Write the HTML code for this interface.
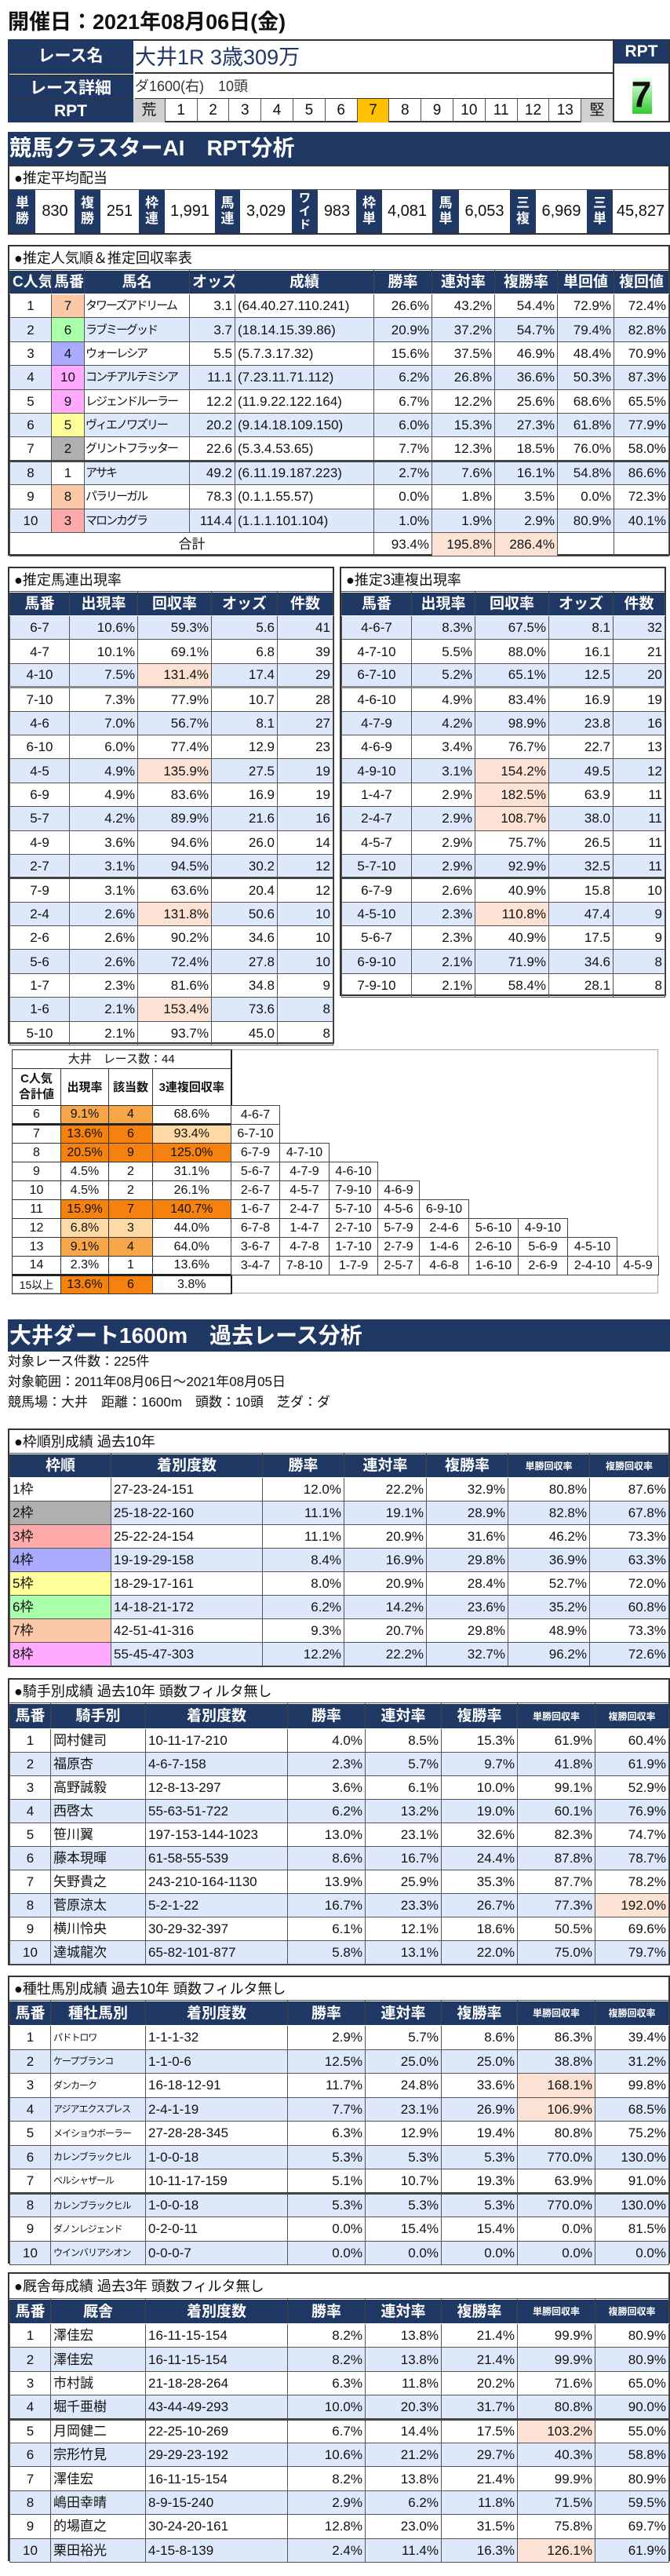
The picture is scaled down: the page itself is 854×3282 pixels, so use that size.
<!DOCTYPE html>
<html><head><meta charset="utf-8">
<style>
*{box-sizing:border-box}
body{margin:0;width:854px;height:3282px;position:relative;background:#fff;font-family:"Liberation Sans","Noto Sans CJK JP",sans-serif;color:#111;overflow:hidden}
.a{position:absolute}
.nv{background:#203864;color:#fff;font-weight:bold}
table{border-collapse:collapse;table-layout:fixed}
td,th{border:1px solid #555;padding:0 3px;white-space:nowrap;overflow:hidden;font-size:17px;text-align:right;font-weight:normal;line-height:1}
th{background:#203864;color:#fff;font-weight:bold;text-align:center;font-size:19px;border-color:#fff #444}
.b td{background:#dde8fb}
td.c{text-align:center}td.l{text-align:left}
td.h,.b td.h{background:#fbe2d5}
.box{position:absolute;border:2px solid #333;background:#fff}
.box table{width:100%}
.tt{font-size:18px;padding-left:6px;height:30px;line-height:30px;border-bottom:1px solid #555}
th.s{font-size:12px}
.nm{font-size:15px;letter-spacing:-2px;padding-left:1px}
.sn{font-size:12px;letter-spacing:-1px}
.cl td{border:1px solid #333;font-size:16px;text-align:center;padding:0}
.cb td{border:1px solid #444;font-size:16px;text-align:center;padding:0;background:#fff}
.cb td.e{border:none;background:transparent}
.o1{background:#f5820f!important}.o2{background:#f8a64a!important}.o3{background:#fdd9a6!important}
</style></head><body>

<div class="a" style="left:10px;top:10px;font-size:27px;font-weight:bold;line-height:36px">開催日：2021年08月06日(金)</div>

<div class="a" style="left:10px;top:50px;width:844px;height:106px;border:2px solid #333"></div>
<div class="a nv" style="left:10px;top:50px;width:160px;height:44px;font-size:21px;line-height:44px;text-align:center">レース名</div>
<div class="a nv" style="left:10px;top:95px;width:160px;height:31px;font-size:21px;line-height:31px;text-align:center;border-top:2px solid #333">レース詳細</div>
<div class="a nv" style="left:10px;top:126px;width:160px;height:30px;font-size:21px;line-height:30px;text-align:center;border-top:1px solid #333">RPT</div>
<div class="a" style="left:172px;top:50px;width:609px;height:44px;font-size:27px;line-height:46px;color:#203864;border-bottom:2px solid #333">大井1R 3歳309万</div>
<div class="a" style="left:172px;top:95px;width:609px;height:31px;font-size:18px;line-height:31px;color:#333;border-bottom:1px solid #333">ダ1600(右)　10頭</div>
<div class="a" style="left:170px;top:126px;width:611px;height:30px;display:flex;font-size:19px;line-height:30px;text-align:center">
<div style="flex:1;background:#d0d0d0;border-right:1px solid #555">荒</div><div style="flex:1;border-right:1px solid #555">1</div><div style="flex:1;border-right:1px solid #555">2</div><div style="flex:1;border-right:1px solid #555">3</div><div style="flex:1;border-right:1px solid #555">4</div><div style="flex:1;border-right:1px solid #555">5</div><div style="flex:1;border-right:1px solid #555">6</div><div style="flex:1;border-right:1px solid #555;background:#ffc000">7</div><div style="flex:1;border-right:1px solid #555">8</div><div style="flex:1;border-right:1px solid #555">9</div><div style="flex:1;border-right:1px solid #555">10</div><div style="flex:1;border-right:1px solid #555">11</div><div style="flex:1;border-right:1px solid #555">12</div><div style="flex:1;border-right:1px solid #555">13</div><div style="flex:1;background:#d0d0d0">堅</div></div>
<div class="a" style="left:781px;top:50px;width:73px;height:106px;border-left:2px solid #333;border-right:2px solid #333"></div>
<div class="a nv" style="left:783px;top:50px;width:69px;height:31px;font-size:21px;line-height:31px;text-align:center">RPT</div>
<div class="a" style="left:806px;top:98px;width:25px;height:47px;background:linear-gradient(#f0fff0,#2ecc2e)"></div>
<div class="a" style="left:783px;top:92px;width:69px;text-align:center;font-size:46px;font-weight:bold;line-height:56px">7</div>

<div class="a nv" style="left:10px;top:168px;width:844px;height:42px;font-size:28px;line-height:42px;padding-left:2px">競馬クラスターAI　RPT分析</div>

<div class="box" style="left:10px;top:210px;width:844px;height:89px">
<div class="tt">●推定平均配当</div>
<div style="display:flex;height:55px;font-size:20px;text-align:center">
<div class="nv" style="width:33px;font-size:17px;line-height:20px;padding-top:7px">単<br>勝</div><div style="width:50px;line-height:55px">830</div>
<div class="nv" style="width:33px;font-size:17px;line-height:20px;padding-top:7px">複<br>勝</div><div style="width:49px;line-height:55px">251</div>
<div class="nv" style="width:33px;font-size:17px;line-height:20px;padding-top:7px">枠<br>連</div><div style="width:64px;line-height:55px">1,991</div>
<div class="nv" style="width:32px;font-size:17px;line-height:20px;padding-top:7px">馬<br>連</div><div style="width:66px;line-height:55px">3,029</div>
<div class="nv" style="width:33px;font-size:15px;line-height:17px;padding-top:2px">ワ<br>イ<br>ド</div><div style="width:49px;line-height:55px">983</div>
<div class="nv" style="width:33px;font-size:17px;line-height:20px;padding-top:7px">枠<br>単</div><div style="width:64px;line-height:55px">4,081</div>
<div class="nv" style="width:34px;font-size:17px;line-height:20px;padding-top:7px">馬<br>単</div><div style="width:65px;line-height:55px">6,053</div>
<div class="nv" style="width:33px;font-size:17px;line-height:20px;padding-top:7px">三<br>複</div><div style="width:65px;line-height:55px">6,969</div>
<div class="nv" style="width:33px;font-size:17px;line-height:20px;padding-top:7px">三<br>単</div><div style="flex:1;line-height:55px">45,827</div>
</div></div>

<div class="box" style="left:10px;top:312px;width:844px;height:396px">
<div class="tt">●推定人気順＆推定回収率表</div>
<table>
<colgroup><col style="width:53px"><col style="width:42px"><col style="width:134px"><col style="width:58px"><col style="width:177px"><col style="width:74px"><col style="width:80px"><col style="width:80px"><col style="width:72px"><col style="width:70px"></colgroup>
<tr style="height:30px"><th>C人気</th><th>馬番</th><th>馬名</th><th>オッズ</th><th>成績</th><th>勝率</th><th>連対率</th><th>複勝率</th><th>単回値</th><th>複回値</th></tr>
<tr style="height:30.4px"><td class="c">1</td><td class="c" style="background:#fcc9a8">7</td><td class="l nm">タワーズアドリーム</td><td>3.1</td><td class="l">(64.40.27.110.241)</td><td>26.6%</td><td>43.2%</td><td>54.4%</td><td>72.9%</td><td>72.4%</td></tr>
<tr class="b" style="height:30.4px"><td class="c">2</td><td class="c" style="background:#aaffaa">6</td><td class="l nm">ラブミーグッド</td><td>3.7</td><td class="l">(18.14.15.39.86)</td><td>20.9%</td><td>37.2%</td><td>54.7%</td><td>79.4%</td><td>82.8%</td></tr>
<tr style="height:30.4px"><td class="c">3</td><td class="c" style="background:#aaaaff">4</td><td class="l nm">ウォーレシア</td><td>5.5</td><td class="l">(5.7.3.17.32)</td><td>15.6%</td><td>37.5%</td><td>46.9%</td><td>48.4%</td><td>70.9%</td></tr>
<tr class="b" style="height:30.4px"><td class="c">4</td><td class="c" style="background:#ffaaff">10</td><td class="l nm">コンチアルテミシア</td><td>11.1</td><td class="l">(7.23.11.71.112)</td><td>6.2%</td><td>26.8%</td><td>36.6%</td><td>50.3%</td><td>87.3%</td></tr>
<tr style="height:30.4px"><td class="c">5</td><td class="c" style="background:#ffaaff">9</td><td class="l nm">レジェンドルーラー</td><td>12.2</td><td class="l">(11.9.22.122.164)</td><td>6.7%</td><td>12.2%</td><td>25.6%</td><td>68.6%</td><td>65.5%</td></tr>
<tr class="b" style="height:30.4px"><td class="c">6</td><td class="c" style="background:#ffff99">5</td><td class="l nm">ヴィエノワズリー</td><td>20.2</td><td class="l">(9.14.18.109.150)</td><td>6.0%</td><td>15.3%</td><td>27.3%</td><td>61.8%</td><td>77.9%</td></tr>
<tr style="height:30.4px;border-bottom:3px solid #444"><td class="c">7</td><td class="c" style="background:#b0b0b0">2</td><td class="l nm">グリントフラッター</td><td>22.6</td><td class="l">(5.3.4.53.65)</td><td>7.7%</td><td>12.3%</td><td>18.5%</td><td>76.0%</td><td>58.0%</td></tr>
<tr class="b" style="height:30.4px"><td class="c">8</td><td class="c" style="background:#fff">1</td><td class="l nm">アサキ</td><td>49.2</td><td class="l">(6.11.19.187.223)</td><td>2.7%</td><td>7.6%</td><td>16.1%</td><td>54.8%</td><td>86.6%</td></tr>
<tr style="height:30.4px"><td class="c">9</td><td class="c" style="background:#fcc9a8">8</td><td class="l nm">パラリーガル</td><td>78.3</td><td class="l">(0.1.1.55.57)</td><td>0.0%</td><td>1.8%</td><td>3.5%</td><td>0.0%</td><td>72.3%</td></tr>
<tr class="b" style="height:30.4px"><td class="c">10</td><td class="c" style="background:#ffaaaa">3</td><td class="l nm">マロンカグラ</td><td>114.4</td><td class="l">(1.1.1.101.104)</td><td>1.0%</td><td>1.9%</td><td>2.9%</td><td>80.9%</td><td>40.1%</td></tr>
<tr style="height:30px"><td class="c" colspan="5">合計</td><td>93.4%</td><td class="h">195.8%</td><td class="h">286.4%</td><td></td><td></td></tr>
</table></div>

<div class="box" style="left:10px;top:722px;width:416px;height:608px">
<div class="tt">●推定馬連出現率</div>
<table>
<colgroup><col style="width:76px"><col style="width:87px"><col style="width:94px"><col style="width:84px"><col style="width:71px"></colgroup>
<tr style="height:30px"><th>馬番</th><th>出現率</th><th>回収率</th><th>オッズ</th><th>件数</th></tr>
<tr class="b" style="height:30.4px"><td class="c">6-7</td><td>10.6%</td><td>59.3%</td><td>5.6</td><td>41</td></tr>
<tr style="height:30.4px"><td class="c">4-7</td><td>10.1%</td><td>69.1%</td><td>6.8</td><td>39</td></tr>
<tr class="b" style="height:30.4px;border-bottom:3px solid #888"><td class="c">4-10</td><td>7.5%</td><td class="h">131.4%</td><td>17.4</td><td>29</td></tr>
<tr style="height:30.4px"><td class="c">7-10</td><td>7.3%</td><td>77.9%</td><td>10.7</td><td>28</td></tr>
<tr class="b" style="height:30.4px"><td class="c">4-6</td><td>7.0%</td><td>56.7%</td><td>8.1</td><td>27</td></tr>
<tr style="height:30.4px"><td class="c">6-10</td><td>6.0%</td><td>77.4%</td><td>12.9</td><td>23</td></tr>
<tr class="b" style="height:30.4px"><td class="c">4-5</td><td>4.9%</td><td class="h">135.9%</td><td>27.5</td><td>19</td></tr>
<tr style="height:30.4px"><td class="c">6-9</td><td>4.9%</td><td>83.6%</td><td>16.9</td><td>19</td></tr>
<tr class="b" style="height:30.4px"><td class="c">5-7</td><td>4.2%</td><td>89.9%</td><td>21.6</td><td>16</td></tr>
<tr style="height:30.4px"><td class="c">4-9</td><td>3.6%</td><td>94.6%</td><td>26.0</td><td>14</td></tr>
<tr class="b" style="height:30.4px;border-bottom:3px solid #444"><td class="c">2-7</td><td>3.1%</td><td>94.5%</td><td>30.2</td><td>12</td></tr>
<tr style="height:30.4px"><td class="c">7-9</td><td>3.1%</td><td>63.6%</td><td>20.4</td><td>12</td></tr>
<tr class="b" style="height:30.4px"><td class="c">2-4</td><td>2.6%</td><td class="h">131.8%</td><td>50.6</td><td>10</td></tr>
<tr style="height:30.4px"><td class="c">2-6</td><td>2.6%</td><td>90.2%</td><td>34.6</td><td>10</td></tr>
<tr class="b" style="height:30.4px"><td class="c">5-6</td><td>2.6%</td><td>72.4%</td><td>27.8</td><td>10</td></tr>
<tr style="height:30.4px"><td class="c">1-7</td><td>2.3%</td><td>81.6%</td><td>34.8</td><td>9</td></tr>
<tr class="b" style="height:30.4px"><td class="c">1-6</td><td>2.1%</td><td class="h">153.4%</td><td>73.6</td><td>8</td></tr>
<tr style="height:30.4px"><td class="c">5-10</td><td>2.1%</td><td>93.7%</td><td>45.0</td><td>8</td></tr>
</table></div>

<div class="box" style="left:433px;top:722px;width:416px;height:547px">
<div class="tt">●推定3連複出現率</div>
<table>
<colgroup><col style="width:89px"><col style="width:81px"><col style="width:94px"><col style="width:82px"><col style="width:66px"></colgroup>
<tr style="height:30px"><th>馬番</th><th>出現率</th><th>回収率</th><th>オッズ</th><th>件数</th></tr>
<tr class="b" style="height:30.4px"><td class="c">4-6-7</td><td>8.3%</td><td>67.5%</td><td>8.1</td><td>32</td></tr>
<tr style="height:30.4px"><td class="c">4-7-10</td><td>5.5%</td><td>88.0%</td><td>16.1</td><td>21</td></tr>
<tr class="b" style="height:30.4px;border-bottom:3px solid #888"><td class="c">6-7-10</td><td>5.2%</td><td>65.1%</td><td>12.5</td><td>20</td></tr>
<tr style="height:30.4px"><td class="c">4-6-10</td><td>4.9%</td><td>83.4%</td><td>16.9</td><td>19</td></tr>
<tr class="b" style="height:30.4px"><td class="c">4-7-9</td><td>4.2%</td><td>98.9%</td><td>23.8</td><td>16</td></tr>
<tr style="height:30.4px"><td class="c">4-6-9</td><td>3.4%</td><td>76.7%</td><td>22.7</td><td>13</td></tr>
<tr class="b" style="height:30.4px"><td class="c">4-9-10</td><td>3.1%</td><td class="h">154.2%</td><td>49.5</td><td>12</td></tr>
<tr style="height:30.4px"><td class="c">1-4-7</td><td>2.9%</td><td class="h">182.5%</td><td>63.9</td><td>11</td></tr>
<tr class="b" style="height:30.4px"><td class="c">2-4-7</td><td>2.9%</td><td class="h">108.7%</td><td>38.0</td><td>11</td></tr>
<tr style="height:30.4px"><td class="c">4-5-7</td><td>2.9%</td><td>75.7%</td><td>26.5</td><td>11</td></tr>
<tr class="b" style="height:30.4px;border-bottom:3px solid #444"><td class="c">5-7-10</td><td>2.9%</td><td>92.9%</td><td>32.5</td><td>11</td></tr>
<tr style="height:30.4px"><td class="c">6-7-9</td><td>2.6%</td><td>40.9%</td><td>15.8</td><td>10</td></tr>
<tr class="b" style="height:30.4px"><td class="c">4-5-10</td><td>2.3%</td><td class="h">110.8%</td><td>47.4</td><td>9</td></tr>
<tr style="height:30.4px"><td class="c">5-6-7</td><td>2.3%</td><td>40.9%</td><td>17.5</td><td>9</td></tr>
<tr class="b" style="height:30.4px"><td class="c">6-9-10</td><td>2.1%</td><td>71.9%</td><td>34.6</td><td>8</td></tr>
<tr style="height:30.4px"><td class="c">7-9-10</td><td>2.1%</td><td>58.4%</td><td>28.1</td><td>8</td></tr>
</table></div>

<div class="a" style="left:15px;top:1337px;width:824px;height:311px;border:1px solid #aaa"></div>
<table class="a cl" style="left:15px;top:1337px;width:279px;border-right:2px solid #222">
<colgroup><col style="width:62px"><col style="width:61px"><col style="width:56px"><col style="width:100px"></colgroup>
<tr style="height:24px"><td colspan="4" style="font-size:15px">大井　レース数：44</td></tr>
<tr style="height:47px"><td style="font-size:15px;font-weight:bold;line-height:20px">C人気<br>合計値</td><td style="font-weight:bold;font-size:15px">出現率</td><td style="font-weight:bold;font-size:15px">該当数</td><td style="font-weight:bold;font-size:15px">3連複回収率</td></tr>
<tr style="height:24px"><td>6</td><td class="o2">9.1%</td><td class="o2">4</td><td>68.6%</td></tr>
<tr style="height:24px;border-top:3px solid #222"><td>7</td><td class="o1">13.6%</td><td class="o1">6</td><td class="o3">93.4%</td></tr>
<tr style="height:24px"><td>8</td><td class="o1">20.5%</td><td class="o1">9</td><td class="o1">125.0%</td></tr>
<tr style="height:24px"><td>9</td><td>4.5%</td><td>2</td><td>31.1%</td></tr>
<tr style="height:24px"><td>10</td><td>4.5%</td><td>2</td><td>26.1%</td></tr>
<tr style="height:24px"><td>11</td><td class="o1">15.9%</td><td class="o1">7</td><td class="o1">140.7%</td></tr>
<tr style="height:24px"><td>12</td><td class="o3">6.8%</td><td class="o3">3</td><td>44.0%</td></tr>
<tr style="height:24px"><td>13</td><td class="o2">9.1%</td><td class="o2">4</td><td>64.0%</td></tr>
<tr style="height:24px"><td>14</td><td>2.3%</td><td>1</td><td>13.6%</td></tr>
<tr style="height:24px;border-top:3px solid #222"><td style="font-size:14px">15以上</td><td class="o1">13.6%</td><td class="o1">6</td><td>3.8%</td></tr>
</table>
<table class="a cb" style="left:294px;top:1408px;width:545px">
<colgroup><col style="width:62px"><col style="width:63px"><col style="width:62px"><col style="width:53px"><col style="width:63px"><col style="width:63px"><col style="width:63px"><col style="width:63px"><col style="width:53px"></colgroup>
<tr style="height:24px"><td>4-6-7</td><td class="e"></td><td class="e"></td><td class="e"></td><td class="e"></td><td class="e"></td><td class="e"></td><td class="e"></td><td class="e"></td></tr>
<tr style="height:24px"><td>6-7-10</td><td class="e"></td><td class="e"></td><td class="e"></td><td class="e"></td><td class="e"></td><td class="e"></td><td class="e"></td><td class="e"></td></tr>
<tr style="height:24px"><td>6-7-9</td><td>4-7-10</td><td class="e"></td><td class="e"></td><td class="e"></td><td class="e"></td><td class="e"></td><td class="e"></td><td class="e"></td></tr>
<tr style="height:24px"><td>5-6-7</td><td>4-7-9</td><td>4-6-10</td><td class="e"></td><td class="e"></td><td class="e"></td><td class="e"></td><td class="e"></td><td class="e"></td></tr>
<tr style="height:24px"><td>2-6-7</td><td>4-5-7</td><td>7-9-10</td><td>4-6-9</td><td class="e"></td><td class="e"></td><td class="e"></td><td class="e"></td><td class="e"></td></tr>
<tr style="height:24px"><td>1-6-7</td><td>2-4-7</td><td>5-7-10</td><td>4-5-6</td><td>6-9-10</td><td class="e"></td><td class="e"></td><td class="e"></td><td class="e"></td></tr>
<tr style="height:24px"><td>6-7-8</td><td>1-4-7</td><td>2-7-10</td><td>5-7-9</td><td>2-4-6</td><td>5-6-10</td><td>4-9-10</td><td class="e"></td><td class="e"></td></tr>
<tr style="height:24px"><td>3-6-7</td><td>4-7-8</td><td>1-7-10</td><td>2-7-9</td><td>1-4-6</td><td>2-6-10</td><td>5-6-9</td><td>4-5-10</td><td class="e"></td></tr>
<tr style="height:24px"><td>3-4-7</td><td>7-8-10</td><td>1-7-9</td><td>2-5-7</td><td>4-6-8</td><td>1-6-10</td><td>2-6-9</td><td>2-4-10</td><td>4-5-9</td></tr>
</table>

<div class="a nv" style="left:10px;top:1681px;width:844px;height:41px;font-size:28px;line-height:41px;padding-left:2px">大井ダート1600m　過去レース分析</div>
<div class="a" style="left:10px;top:1722px;font-size:17px;line-height:26px">対象レース件数：225件<br>対象範囲：2011年08月06日～2021年08月05日<br>競馬場：大井　距離：1600m　頭数：10頭　芝ダ：ダ</div>

<div class="box" style="left:10px;top:1820px;width:844px;height:304px">
<div class="tt">●枠順別成績 過去10年</div>
<table>
<colgroup><col style="width:129px"><col style="width:193px"><col style="width:104px"><col style="width:105px"><col style="width:104px"><col style="width:104px"><col style="width:101px"></colgroup>
<tr style="height:30px"><th>枠順</th><th>着別度数</th><th>勝率</th><th>連対率</th><th>複勝率</th><th class="s">単勝回収率</th><th class="s">複勝回収率</th></tr>
<tr style="height:30px"><td class="l">1枠</td><td class="l">27-23-24-151</td><td>12.0%</td><td>22.2%</td><td>32.9%</td><td>80.8%</td><td>87.6%</td></tr>
<tr class="b" style="height:30px"><td class="l" style="background:#b0b0b0">2枠</td><td class="l">25-18-22-160</td><td>11.1%</td><td>19.1%</td><td>28.9%</td><td>82.8%</td><td>67.8%</td></tr>
<tr style="height:30px"><td class="l" style="background:#ffaaaa">3枠</td><td class="l">25-22-24-154</td><td>11.1%</td><td>20.9%</td><td>31.6%</td><td>46.2%</td><td>73.3%</td></tr>
<tr class="b" style="height:30px"><td class="l" style="background:#aaaaff">4枠</td><td class="l">19-19-29-158</td><td>8.4%</td><td>16.9%</td><td>29.8%</td><td>36.9%</td><td>63.3%</td></tr>
<tr style="height:30px"><td class="l" style="background:#ffff99">5枠</td><td class="l">18-29-17-161</td><td>8.0%</td><td>20.9%</td><td>28.4%</td><td>52.7%</td><td>72.0%</td></tr>
<tr class="b" style="height:30px"><td class="l" style="background:#aaffaa">6枠</td><td class="l">14-18-21-172</td><td>6.2%</td><td>14.2%</td><td>23.6%</td><td>35.2%</td><td>60.8%</td></tr>
<tr style="height:30px"><td class="l" style="background:#fcc9a8">7枠</td><td class="l">42-51-41-316</td><td>9.3%</td><td>20.7%</td><td>29.8%</td><td>48.9%</td><td>73.3%</td></tr>
<tr class="b" style="height:30px"><td class="l" style="background:#ffaaff">8枠</td><td class="l">55-45-47-303</td><td>12.2%</td><td>22.2%</td><td>32.7%</td><td>96.2%</td><td>72.6%</td></tr>
</table></div>

<div class="box" style="left:10px;top:2138px;width:844px;height:366px">
<div class="tt">●騎手別成績 過去10年 頭数フィルタ無し</div>
<table>
<colgroup><col style="width:52px"><col style="width:121px"><col style="width:181px"><col style="width:99px"><col style="width:97px"><col style="width:97px"><col style="width:99px"><col style="width:94px"></colgroup>
<tr style="height:32px"><th>馬番</th><th>騎手別</th><th>着別度数</th><th>勝率</th><th>連対率</th><th>複勝率</th><th class="s">単勝回収率</th><th class="s">複勝回収率</th></tr>
<tr style="height:30px"><td class="c">1</td><td class="l">岡村健司</td><td class="l">10-11-17-210</td><td>4.0%</td><td>8.5%</td><td>15.3%</td><td>61.9%</td><td>60.4%</td></tr>
<tr class="b" style="height:30px"><td class="c">2</td><td class="l">福原杏</td><td class="l">4-6-7-158</td><td>2.3%</td><td>5.7%</td><td>9.7%</td><td>41.8%</td><td>61.9%</td></tr>
<tr style="height:30px"><td class="c">3</td><td class="l">高野誠毅</td><td class="l">12-8-13-297</td><td>3.6%</td><td>6.1%</td><td>10.0%</td><td>99.1%</td><td>52.9%</td></tr>
<tr class="b" style="height:30px"><td class="c">4</td><td class="l">西啓太</td><td class="l">55-63-51-722</td><td>6.2%</td><td>13.2%</td><td>19.0%</td><td>60.1%</td><td>76.9%</td></tr>
<tr style="height:30px"><td class="c">5</td><td class="l">笹川翼</td><td class="l">197-153-144-1023</td><td>13.0%</td><td>23.1%</td><td>32.6%</td><td>82.3%</td><td>74.7%</td></tr>
<tr class="b" style="height:30px"><td class="c">6</td><td class="l">藤本現暉</td><td class="l">61-58-55-539</td><td>8.6%</td><td>16.7%</td><td>24.4%</td><td>87.8%</td><td>78.7%</td></tr>
<tr style="height:30px"><td class="c">7</td><td class="l">矢野貴之</td><td class="l">243-210-164-1130</td><td>13.9%</td><td>25.9%</td><td>35.3%</td><td>87.7%</td><td>78.2%</td></tr>
<tr class="b" style="height:30px"><td class="c">8</td><td class="l">菅原涼太</td><td class="l">5-2-1-22</td><td>16.7%</td><td>23.3%</td><td>26.7%</td><td>77.3%</td><td class="h">192.0%</td></tr>
<tr style="height:30px"><td class="c">9</td><td class="l">横川怜央</td><td class="l">30-29-32-397</td><td>6.1%</td><td>12.1%</td><td>18.6%</td><td>50.5%</td><td>69.6%</td></tr>
<tr class="b" style="height:30px"><td class="c">10</td><td class="l">達城龍次</td><td class="l">65-82-101-877</td><td>5.8%</td><td>13.1%</td><td>22.0%</td><td>75.0%</td><td>79.7%</td></tr>
</table></div>

<div class="box" style="left:10px;top:2517px;width:844px;height:367px">
<div class="tt">●種牡馬別成績 過去10年 頭数フィルタ無し</div>
<table>
<colgroup><col style="width:52px"><col style="width:121px"><col style="width:181px"><col style="width:99px"><col style="width:97px"><col style="width:97px"><col style="width:99px"><col style="width:94px"></colgroup>
<tr style="height:31px"><th>馬番</th><th>種牡馬別</th><th>着別度数</th><th>勝率</th><th>連対率</th><th>複勝率</th><th class="s">単勝回収率</th><th class="s">複勝回収率</th></tr>
<tr style="height:30.5px"><td class="c">1</td><td class="l sn">パドトロワ</td><td class="l">1-1-1-32</td><td>2.9%</td><td>5.7%</td><td>8.6%</td><td>86.3%</td><td>39.4%</td></tr>
<tr class="b" style="height:30.5px"><td class="c">2</td><td class="l sn">ケープブランコ</td><td class="l">1-1-0-6</td><td>12.5%</td><td>25.0%</td><td>25.0%</td><td>38.8%</td><td>31.2%</td></tr>
<tr style="height:30.5px"><td class="c">3</td><td class="l sn">ダンカーク</td><td class="l">16-18-12-91</td><td>11.7%</td><td>24.8%</td><td>33.6%</td><td class="h">168.1%</td><td>99.8%</td></tr>
<tr class="b" style="height:30.5px"><td class="c">4</td><td class="l sn">アジアエクスプレス</td><td class="l">2-4-1-19</td><td>7.7%</td><td>23.1%</td><td>26.9%</td><td class="h">106.9%</td><td>68.5%</td></tr>
<tr style="height:30.5px"><td class="c">5</td><td class="l sn">メイショウボーラー</td><td class="l">27-28-28-345</td><td>6.3%</td><td>12.9%</td><td>19.4%</td><td>80.8%</td><td>75.2%</td></tr>
<tr class="b" style="height:30.5px"><td class="c">6</td><td class="l sn">カレンブラックヒル</td><td class="l">1-0-0-18</td><td>5.3%</td><td>5.3%</td><td>5.3%</td><td>770.0%</td><td>130.0%</td></tr>
<tr style="height:30.5px;border-bottom:3px solid #444"><td class="c">7</td><td class="l sn">ベルシャザール</td><td class="l">10-11-17-159</td><td>5.1%</td><td>10.7%</td><td>19.3%</td><td>63.9%</td><td>91.0%</td></tr>
<tr class="b" style="height:30.5px"><td class="c">8</td><td class="l sn">カレンブラックヒル</td><td class="l">1-0-0-18</td><td>5.3%</td><td>5.3%</td><td>5.3%</td><td>770.0%</td><td>130.0%</td></tr>
<tr style="height:30.5px"><td class="c">9</td><td class="l sn">ダノンレジェンド</td><td class="l">0-2-0-11</td><td>0.0%</td><td>15.4%</td><td>15.4%</td><td>0.0%</td><td>81.5%</td></tr>
<tr class="b" style="height:30.5px"><td class="c">10</td><td class="l sn">ウインバリアシオン</td><td class="l">0-0-0-7</td><td>0.0%</td><td>0.0%</td><td>0.0%</td><td>0.0%</td><td>0.0%</td></tr>
</table></div>

<div class="box" style="left:10px;top:2895px;width:844px;height:368px">
<div class="tt" style="height:32px;line-height:32px">●厩舎毎成績 過去3年 頭数フィルタ無し</div>
<table>
<colgroup><col style="width:52px"><col style="width:121px"><col style="width:181px"><col style="width:99px"><col style="width:97px"><col style="width:97px"><col style="width:99px"><col style="width:94px"></colgroup>
<tr style="height:31px"><th>馬番</th><th>厩舎</th><th>着別度数</th><th>勝率</th><th>連対率</th><th>複勝率</th><th class="s">単勝回収率</th><th class="s">複勝回収率</th></tr>
<tr style="height:30.4px"><td class="c">1</td><td class="l">澤佳宏</td><td class="l">16-11-15-154</td><td>8.2%</td><td>13.8%</td><td>21.4%</td><td>99.9%</td><td>80.9%</td></tr>
<tr class="b" style="height:30.4px"><td class="c">2</td><td class="l">澤佳宏</td><td class="l">16-11-15-154</td><td>8.2%</td><td>13.8%</td><td>21.4%</td><td>99.9%</td><td>80.9%</td></tr>
<tr style="height:30.4px"><td class="c">3</td><td class="l">市村誠</td><td class="l">21-18-28-264</td><td>6.3%</td><td>11.8%</td><td>20.2%</td><td>71.6%</td><td>65.0%</td></tr>
<tr class="b" style="height:30.4px;border-bottom:3px solid #444"><td class="c">4</td><td class="l">堀千亜樹</td><td class="l">43-44-49-293</td><td>10.0%</td><td>20.3%</td><td>31.7%</td><td>80.8%</td><td>90.0%</td></tr>
<tr style="height:30.4px"><td class="c">5</td><td class="l">月岡健二</td><td class="l">22-25-10-269</td><td>6.7%</td><td>14.4%</td><td>17.5%</td><td class="h">103.2%</td><td>55.0%</td></tr>
<tr class="b" style="height:30.4px"><td class="c">6</td><td class="l">宗形竹見</td><td class="l">29-29-23-192</td><td>10.6%</td><td>21.2%</td><td>29.7%</td><td>40.3%</td><td>58.8%</td></tr>
<tr style="height:30.4px"><td class="c">7</td><td class="l">澤佳宏</td><td class="l">16-11-15-154</td><td>8.2%</td><td>13.8%</td><td>21.4%</td><td>99.9%</td><td>80.9%</td></tr>
<tr class="b" style="height:30.4px"><td class="c">8</td><td class="l">嶋田幸晴</td><td class="l">8-9-15-240</td><td>2.9%</td><td>6.2%</td><td>11.8%</td><td>71.5%</td><td>59.5%</td></tr>
<tr style="height:30.4px"><td class="c">9</td><td class="l">的場直之</td><td class="l">30-24-20-161</td><td>12.8%</td><td>23.0%</td><td>31.5%</td><td>75.8%</td><td>69.7%</td></tr>
<tr class="b" style="height:30.4px"><td class="c">10</td><td class="l">栗田裕光</td><td class="l">4-15-8-139</td><td>2.4%</td><td>11.4%</td><td>16.3%</td><td class="h">126.1%</td><td>61.9%</td></tr>
</table></div>

</body></html>
